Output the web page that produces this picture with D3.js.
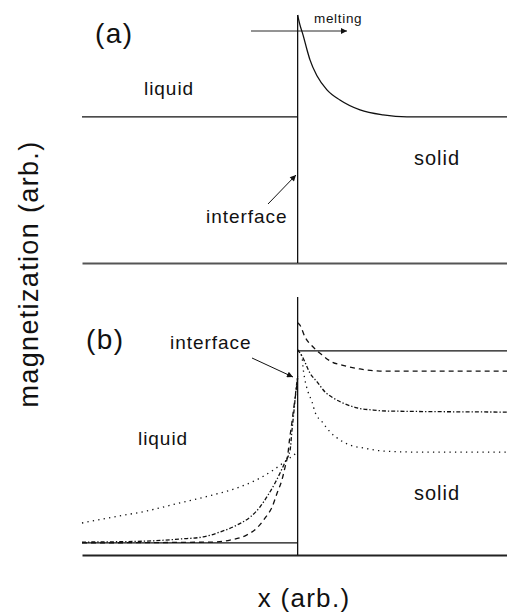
<!DOCTYPE html>
<html>
<head>
<meta charset="utf-8">
<script src="https://cdn.jsdelivr.net/npm/d3@7"></script>
<style>
  body { margin: 0; background: #fff; }
  text { font-family: "Liberation Sans", Arial, sans-serif; fill: #111; letter-spacing: 0.05em; }
</style>
</head>
<body>
<div class="container"></div>
<script>
// panel (a): liquid level and the melting profile in the solid
const liquidAX = [-1.03, 0];
const liquidAY = [0.589, 0.589];
const meltX = [0, 0.011, 0.026, 0.045, 0.059, 0.093, 0.140, 0.202, 0.298, 0.408, 0.522, 1.0];
const meltY = [1.0, 0.96, 0.919, 0.859, 0.819, 0.754, 0.698, 0.657, 0.617, 0.597, 0.589, 0.589];

// panel (b): solid reference lines
const solidLeftX = [-1.03, 0];
const solidLeftY = [0.047, 0.047];
const solidRightX = [0, 1];
const solidRightY = [0.791, 0.791];

// panel (b): dashed profile
const dashLeftX = [-1.03, -0.418, -0.323, -0.242, -0.194, -0.156, -0.122, -0.098, -0.075, -0.060, -0.046, -0.039, -0.029, -0.020, -0.010, 0];
const dashLeftY = [0.047, 0.050, 0.058, 0.078, 0.105, 0.143, 0.186, 0.240, 0.291, 0.341, 0.395, 0.446, 0.504, 0.562, 0.620, 0.686];
const dashRightX = [0, 0.011, 0.035, 0.074, 0.117, 0.164, 0.212, 0.298, 0.393, 1.0];
const dashRightY = [0.90, 0.891, 0.845, 0.806, 0.775, 0.748, 0.736, 0.721, 0.713, 0.713];

// panel (b): dash-dot profile
const dotDashLeftX = [-1.03, -0.719, -0.562, -0.452, -0.371, -0.290, -0.227, -0.180, -0.141, -0.108, -0.084, -0.060, -0.036, -0.027, -0.017, -0.008, 0];
const dotDashLeftY = [0.050, 0.054, 0.062, 0.070, 0.089, 0.116, 0.147, 0.186, 0.233, 0.279, 0.318, 0.360, 0.407, 0.484, 0.562, 0.640, 0.694];
const dotDashRightX = [0, 0.021, 0.059, 0.093, 0.131, 0.169, 0.217, 0.284, 0.360, 0.427, 1.0];
const dotDashRightY = [0.795, 0.771, 0.705, 0.671, 0.632, 0.609, 0.589, 0.570, 0.562, 0.558, 0.554];

// panel (b): dotted profile
const dotLeftX = [-1.03, -0.882, -0.719, -0.562, -0.404, -0.275, -0.180, -0.117, -0.051, -0.013, 0];
const dotLeftY = [0.124, 0.147, 0.171, 0.202, 0.233, 0.264, 0.298, 0.329, 0.368, 0.391, 0.399];
const dotRightX = [0, 0.021, 0.026, 0.035, 0.050, 0.069, 0.083, 0.117, 0.155, 0.202, 0.250, 0.312, 0.408, 0.570, 1.0];
const dotRightY = [0.795, 0.767, 0.725, 0.678, 0.632, 0.593, 0.554, 0.516, 0.477, 0.446, 0.426, 0.415, 0.403, 0.399, 0.399];

const width = 507;
const height = 615;

const xScale = d3.scaleLinear().domain([-1.03, 1]).range([82, 507]);
const yA = d3.scaleLinear().domain([0, 1]).range([263, 15]);
const yB = d3.scaleLinear().domain([0, 1]).range([555, 297]);

const zip = (xs, ys) => xs.map((x, i) => [x, ys[i]]);

const svg = d3.select('.container')
  .append('svg')
  .attr('width', width)
  .attr('height', height);

const defs = svg.append('defs');
defs.append('marker')
  .attr('id', 'head')
  .attr('viewBox', '0 0 10 10')
  .attr('refX', 10)
  .attr('refY', 5)
  .attr('markerWidth', 8)
  .attr('markerHeight', 6)
  .attr('markerUnits', 'userSpaceOnUse')
  .attr('orient', 'auto')
  .append('path')
  .attr('d', 'M0,0L10,5L0,10Z')
  .attr('fill', '#111');

// baselines via axes with no ticks
const xAxis = d3.axisBottom(xScale).ticks(0).tickSizeOuter(0);

svg.append('g')
  .attr('transform', `translate(0, ${yA(0)})`)
  .call(xAxis)
  .call(g => g.select('.domain').attr('stroke', '#555').attr('stroke-width', 2));

svg.append('g')
  .attr('transform', `translate(0, ${yB(0)})`)
  .call(xAxis)
  .call(g => g.select('.domain').attr('stroke', '#222').attr('stroke-width', 2));

function drawLine(y, xs, ys, dash, curve) {
  const line = d3.line()
    .x(d => xScale(d[0]))
    .y(d => y(d[1]))
    .curve(curve || d3.curveLinear);
  svg.append('path')
    .attr('d', line(zip(xs, ys)))
    .attr('fill', 'none')
    .attr('stroke', '#111')
    .attr('stroke-width', 1.3)
    .attr('stroke-dasharray', dash || null);
}

// interface lines
drawLine(yA, [0, 0], [0, 1]);
drawLine(yB, [0, 0], [0, 1]);

// panel (a)
drawLine(yA, liquidAX, liquidAY);
drawLine(yA, meltX, meltY, null, d3.curveMonotoneX);

// panel (b)
drawLine(yB, solidLeftX, solidLeftY);
drawLine(yB, solidRightX, solidRightY);

const dashed = '5,4';
const dashDot = '4,2,1.3,2';
const dotted = '1.3,4.2';

drawLine(yB, dashLeftX, dashLeftY, dashed, d3.curveMonotoneX);
drawLine(yB, dashRightX, dashRightY, dashed, d3.curveMonotoneX);
drawLine(yB, dotDashLeftX, dotDashLeftY, dashDot, d3.curveMonotoneX);
drawLine(yB, dotDashRightX, dotDashRightY, dashDot, d3.curveMonotoneX);
drawLine(yB, dotLeftX, dotLeftY, dotted, d3.curveMonotoneX);
drawLine(yB, dotRightX, dotRightY, dotted, d3.curveMonotoneX);

// annotation arrows
function arrow(x1, y1, x2, y2, w) {
  svg.append('line')
    .attr('x1', x1).attr('y1', y1)
    .attr('x2', x2).attr('y2', y2)
    .attr('stroke', '#111')
    .attr('stroke-width', w || 1)
    .attr('marker-end', 'url(#head)');
}
arrow(251, 31, 347, 31, 0.9);
arrow(268, 204, 296, 175);
arrow(252, 358, 293, 377);

// text
function label(str, x, y, size) {
  svg.append('text')
    .attr('x', x)
    .attr('y', y)
    .attr('font-size', size)
    .text(str);
}
label('(a)', 95, 43, 28);
label('melting', 314, 23, 13.5);
label('liquid', 144, 95, 19);
label('solid', 414, 165, 20);
label('interface', 206, 223, 19);

label('(b)', 86, 349, 28);
label('interface', 170, 349, 19);
label('liquid', 138, 445, 19);
label('solid', 414, 500, 20);

svg.append('text')
  .attr('x', 304)
  .attr('y', 607)
  .attr('text-anchor', 'middle')
  .attr('font-size', 26)
  .text('x (arb.)');

svg.append('text')
  .attr('transform', 'translate(38, 274) rotate(-90)')
  .attr('text-anchor', 'middle')
  .attr('font-size', 27)
  .text('magnetization (arb.)');
</script>
</body>
</html>
